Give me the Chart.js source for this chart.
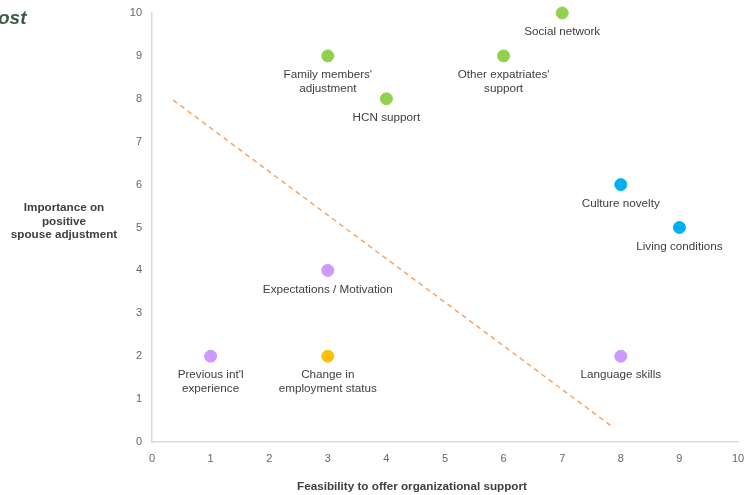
<!DOCTYPE html>
<html>
<head>
<meta charset="utf-8">
<style>
  html, body { margin: 0; padding: 0; background: #ffffff; }
  #wrap { position: relative; width: 746px; height: 495px; }
  #corner { position: absolute; left: -2px; top: 7px; font: italic bold 19px "Liberation Sans", Arial, sans-serif; color: #3b5b47; }
</style>
<script src="https://cdn.jsdelivr.net/npm/chart.js@4"></script>
</head>
<body>
<div id="wrap">
  <canvas id="c" width="746" height="495"></canvas>
  <div id="corner">ost</div>
</div>
<script>
// Factors rated on two dimensions
const factors = [
  "Social network",
  "Family members'\nadjustment",
  "Other expatriates'\nsupport",
  "HCN support",
  "Culture novelty",
  "Living conditions",
  "Expectations / Motivation",
  "Previous int'l\nexperience",
  "Change in\nemployment status",
  "Language skills"
];
const feasibility = [7, 3, 6, 4, 8, 9, 3, 1, 3, 8];
const importance  = [10, 9, 9, 8, 6, 5, 4, 2, 2, 2];
const groupColors = ["#92d050", "#92d050", "#92d050", "#92d050", "#00b0f0", "#00b0f0",
                     "#cc99ff", "#cc99ff", "#ffc000", "#cc99ff"];

// Dividing trend line endpoints (feasibility, importance)
const trendX = [0.36, 7.88];
const trendY = [7.97, 0.33];

const xTicks = [0, 1, 2, 3, 4, 5, 6, 7, 8, 9, 10];
const yTicks = [0, 1, 2, 3, 4, 5, 6, 7, 8, 9, 10];

const FONT = '"Liberation Sans", Arial, sans-serif';

const points = feasibility.map((x, i) => ({ x: x, y: importance[i] }));
const trend = trendX.map((x, i) => ({ x: x, y: trendY[i] }));

// Draws each factor name under its point
const pointLabels = {
  id: 'pointLabels',
  afterDatasetsDraw(chart) {
    const ctx = chart.ctx;
    const meta = chart.getDatasetMeta(1);
    ctx.save();
    ctx.font = '11.7px ' + FONT;
    ctx.fillStyle = '#404040';
    ctx.textAlign = 'center';
    ctx.textBaseline = 'middle';
    meta.data.forEach((el, i) => {
      const lines = factors[i].split('\n');
      lines.forEach((line, k) => {
        ctx.fillText(line, el.x, el.y + 19 + k * 14);
      });
    });
    ctx.restore();
  }
};

// Horizontal y-axis title and x-axis title
const axisTitles = {
  id: 'axisTitles',
  afterDraw(chart) {
    const ctx = chart.ctx;
    ctx.save();
    ctx.font = 'bold 11.7px ' + FONT;
    ctx.fillStyle = '#404040';
    ctx.textAlign = 'center';
    ctx.textBaseline = 'middle';
    const yTitle = ['Importance on', 'positive', 'spouse adjustment'];
    yTitle.forEach((t, k) => ctx.fillText(t, 64, 208 + k * 13.5));
    ctx.fillText('Feasibility to offer organizational support', 412, 487);
    ctx.restore();
  }
};

new Chart(document.getElementById('c'), {
  type: 'scatter',
  data: {
    datasets: [
      {
        type: 'line',
        data: trend,
        borderColor: '#f4a66a',
        borderWidth: 1.5,
        borderDash: [5, 4],
        pointRadius: 0,
        fill: false
      },
      {
        data: points,
        backgroundColor: groupColors,
        borderColor: groupColors,
        pointRadius: 6,
        pointHoverRadius: 6,
        clip: false
      }
    ]
  },
  options: {
    responsive: false,
    animation: false,
    events: [],
    layout: { padding: 0 },
    plugins: { legend: { display: false }, tooltip: { enabled: false } },
    scales: {
      x: {
        type: 'linear',
        min: 0, max: 10,
        afterBuildTicks(scale) { scale.ticks = xTicks.map(v => ({ value: v })); },
        afterFit(scale) {
          scale.height = 53;
          scale.paddingLeft = 0;
          scale.paddingRight = 8;
        },
        grid: { display: false, drawTicks: false },
        border: { display: true, color: '#d9d9d9', width: 1.5 },
        ticks: { color: '#666666', font: { family: FONT, size: 11 }, padding: 10 }
      },
      y: {
        type: 'linear',
        min: 0, max: 10,
        afterBuildTicks(scale) { scale.ticks = yTicks.map(v => ({ value: v })); },
        afterFit(scale) {
          scale.width = 152;
          scale.paddingTop = 13;
          scale.paddingBottom = 0;
        },
        grid: { display: false, drawTicks: false },
        border: { display: true, color: '#d9d9d9', width: 1.5 },
        ticks: { color: '#666666', font: { family: FONT, size: 11 }, padding: 10 }
      }
    }
  },
  plugins: [pointLabels, axisTitles]
});
</script>
</body>
</html>
